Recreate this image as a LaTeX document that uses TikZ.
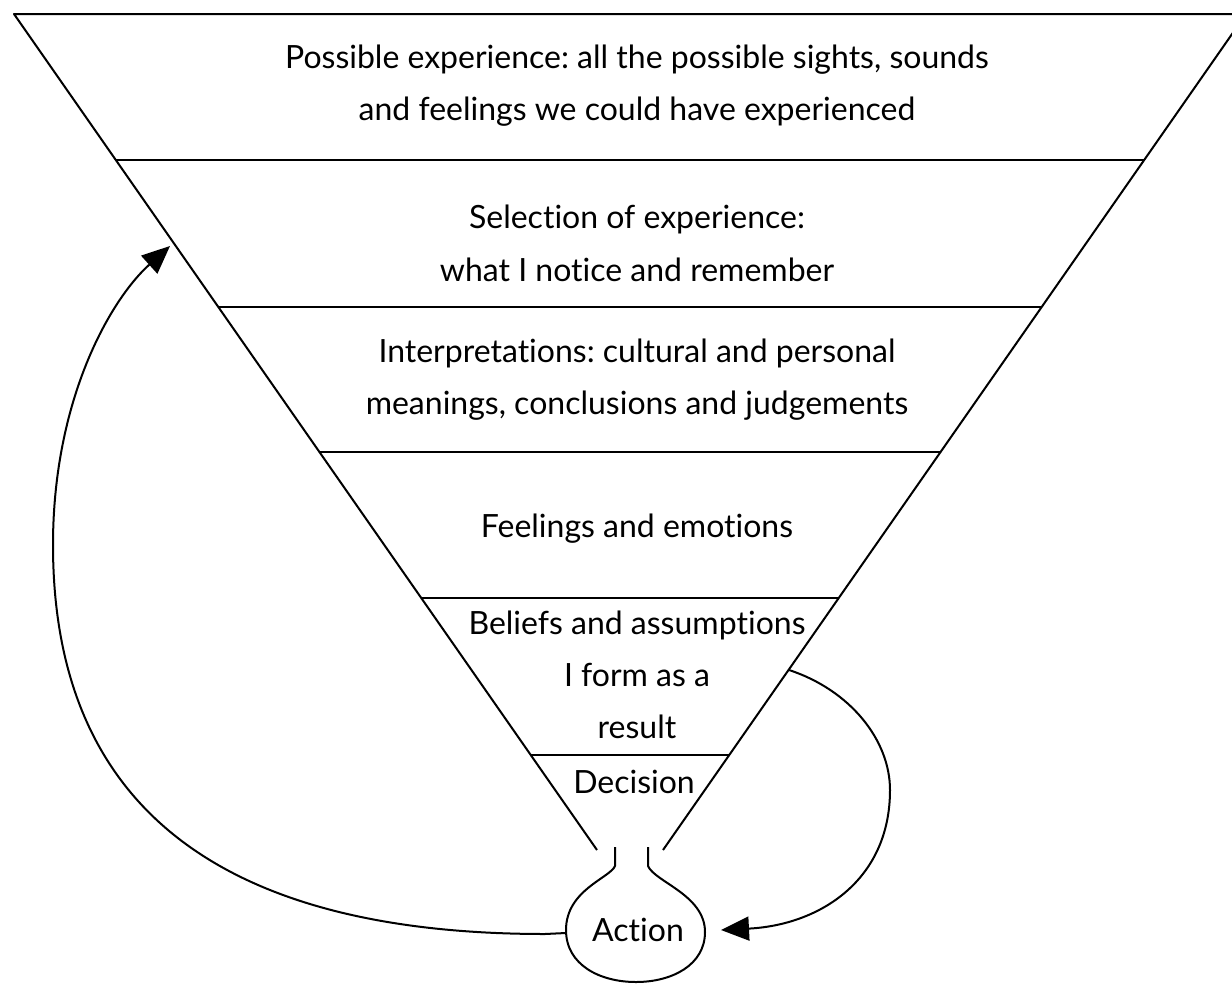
\documentclass[tikz,border=0pt]{standalone}
\usepackage{fontspec}
\setmainfont[Ligatures=NoCommon]{Lato}
\usetikzlibrary{arrows.meta}
\frenchspacing
\begin{document}
\begin{tikzpicture}[x=1pt,y=-1pt,
  lbl/.style={inner sep=0pt, font=\fontsize{32}{38}\selectfont\frenchspacing, text height=0.72em, text depth=0.22em, anchor=center, yshift=-8pt},
  ln/.style={line width=2pt, line join=round},
  hl/.style={line width=1.8pt},
  arr/.style={line width=2pt, -{Triangle[length=28pt,width=24pt]}}]
\useasboundingbox (0,0) rectangle (1232,983);
\clip (0,0) rectangle (1232,983);
% funnel outline
\draw[ln] (597,850) -- (14,14) -- (1246,14) -- (663,850);
% band separators
\draw[hl] (115.8,160) -- (1144.2,160);
\draw[hl] (218.3,307) -- (1041.7,307);
\draw[hl] (319.5,452) -- (940.5,452);
\draw[hl] (421.3,598) -- (838.7,598);
\draw[hl] (530.8,755) -- (729.2,755);
% labels
\node[lbl] (p1) at (637,58) {Possible experience: all the possible sights, sounds};
\node[lbl] (p2) at (637,110) {and feelings we could have experienced};
\node[lbl] (s1) at (637,218) {Selection of experience:};
\node[lbl] (s2) at (637,271) {what I notice and remember};
\node[lbl] (i1) at (637,352) {Interpretations: cultural and personal};
\node[lbl] (i2) at (637,404) {meanings, conclusions and judgements};
\node[lbl] (f1) at (637,527) {Feelings and emotions};
\node[lbl] (b1) at (637,624) {Beliefs and assumptions};
\node[lbl] (b2) at (637,676) {I form as a};
\node[lbl] (b3) at (637,728) {result};
\node[lbl] (d1) at (634,783) {Decision};
\node[lbl] (act) at (638,931) {Action};
% bulb around Action
\draw[ln] (615,847) -- (615,866) .. controls (610,878) and (566,890) .. (566,930)
  .. controls (566,965) and (600,982) .. (636,982)
  .. controls (672,982) and (705,965) .. (705,932)
  .. controls (705,895) and (655,882) .. (648,866) -- (648,847);
% connector coordinates
\coordinate (bulbL) at (566,933);
\coordinate (selIn) at (170,246);
\coordinate (belOut) at (789,670);
\coordinate (bulbR) at (721,930);
% feedback arrows
\draw[arr] (bulbL) -- (545,934) .. controls (200,934) and (53,790) .. (53,545)
  .. controls (53,400) and (110,300) .. (selIn);
\draw[arr] (belOut) .. controls (850,690) and (890,740) .. (890,790)
  .. controls (890,880) and (820,925) .. (bulbR);
\end{tikzpicture}
\end{document}
